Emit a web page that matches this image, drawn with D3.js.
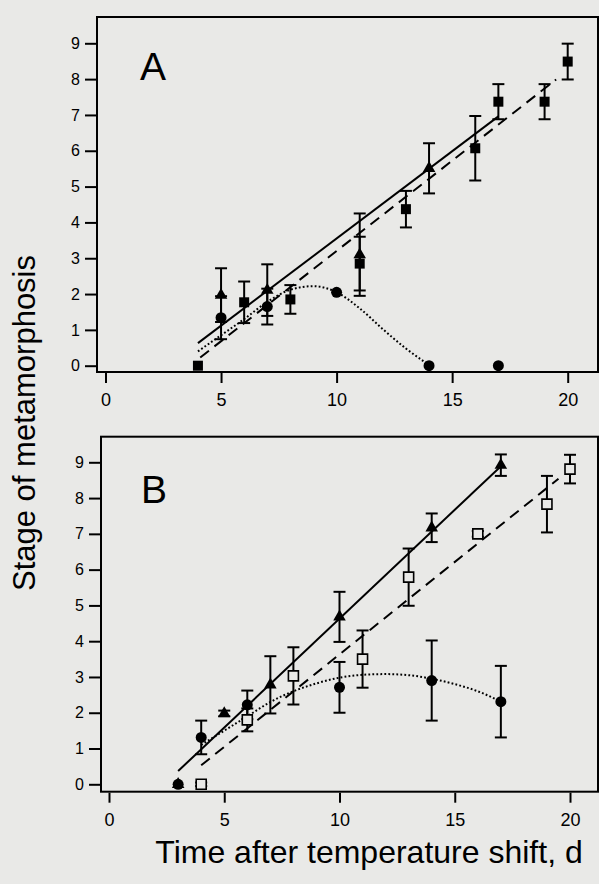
<!DOCTYPE html>
<meta charset="utf-8"/>
<head>
<script src="https://d3js.org/d3.v7.min.js"></script>
<style>
body { margin: 0; background: #e9e9e7; }
svg { display: block; background: #e9e9e7; }
text { font-family: "Liberation Sans", Arial, Helvetica, sans-serif; fill: #000; }
.tick line { stroke: #000; stroke-width: 2px; }
</style>
</head>
<body>
<div id="chart"></div>
<script>

// ---- panel A (high density) ----
var daysA_sq = [4, 6, 8, 11, 13, 16, 17, 19, 20],
    stageA_sq = [0, 1.77, 1.85, 2.85, 4.37, 6.07, 7.37, 7.37, 8.49],
    errA_sq = [0, 0.58, 0.4, 0.75, 0.51, 0.9, 0.49, 0.49, 0.5];

var daysA_tri = [5, 7, 11, 14],
    stageA_tri = [1.97, 2.11, 3.1, 5.51],
    errA_tri = [0.75, 0.72, 1.15, 0.7];

var daysA_ci = [5, 7, 10, 14, 17],
    stageA_ci = [1.34, 1.65, 2.05, 0, 0],
    errA_ci = [0.6, 0.5, 0, 0, 0];

// fitted curves
var fitA_solid_x = [4, 17], fitA_solid_y = [0.63, 6.96];
var fitA_dash_x = [4.1, 19.5], fitA_dash_y = [0.23, 7.99];
var fitA_dot_x = [4, 5, 6, 7, 8, 9, 10, 11, 12, 13, 14],
    fitA_dot_y = [0.4, 0.85, 1.3, 1.78, 2.12, 2.22, 2.05, 1.6, 1.02, 0.48, 0.02];

// ---- panel B ----
var daysB_tri = [3, 5, 7, 10, 14, 17],
    stageB_tri = [0, 1.98, 2.78, 4.68, 7.17, 8.92],
    errB_tri = [0, 0.08, 0.8, 0.7, 0.4, 0.3];

var daysB_ci = [3, 4, 6, 10, 14, 17],
    stageB_ci = [0, 1.31, 2.22, 2.71, 2.9, 2.31],
    errB_ci = [0, 0.47, 0.4, 0.71, 1.12, 1.0];

var daysB_osq = [4, 6, 8, 11, 13, 16, 19, 20],
    stageB_osq = [0, 1.8, 3.03, 3.5, 5.79, 7.0, 7.83, 8.81],
    errB_osq = [0.05, 0.32, 0.8, 0.8, 0.8, 0.08, 0.79, 0.4];

var fitB_solid_x = [3, 17.05], fitB_solid_y = [0.37, 8.92];
var fitB_dash_x = [4, 19.5], fitB_dash_y = [0.53, 8.54];
var fitB_dot_x = [4, 5, 6, 7, 8, 9, 10, 11, 12, 13, 14, 15, 16, 17],
    fitB_dot_y = [1.1, 1.5, 1.9, 2.3, 2.6, 2.82, 2.98, 3.06, 3.08, 3.05, 2.95, 2.8, 2.6, 2.31];

var xTicks = [0, 5, 10, 15, 20],
    yTicks = [0, 1, 2, 3, 4, 5, 6, 7, 8, 9];

var xTitle = "Time after temperature shift, d",
    yTitle = "Stage of metamorphosis";

var bg = "#e9e9e7";

var svg = d3.select("#chart").append("svg")
    .attr("width", 599)
    .attr("height", 884);

function zip(xs, ys, es) {
  return xs.map(function(d, i) { return { x: d, y: ys[i], e: es ? es[i] : 0 }; });
}

function drawPanel(p) {
  var x = d3.scaleLinear().domain([0, 20]).range(p.xRange);
  var y = d3.scaleLinear().domain([0, 9]).range(p.yRange);
  var g = svg.append("g");

  // frame
  g.append("rect")
    .attr("x", p.box[0]).attr("y", p.box[1])
    .attr("width", p.box[2] - p.box[0]).attr("height", p.box[3] - p.box[1])
    .attr("fill", "none").attr("stroke", "#000").attr("stroke-width", 2);

  // axes
  var ya = g.append("g")
    .attr("transform", "translate(" + p.box[0] + ",0)")
    .call(d3.axisLeft(y).tickValues(yTicks).tickSize(12).tickPadding(5).tickSizeOuter(0));
  ya.select(".domain").remove();
  ya.selectAll("text").style("font-size", "16px");

  var xa = g.append("g")
    .attr("transform", "translate(0," + (p.box[3] + 1) + ")")
    .call(d3.axisBottom(x).tickValues(xTicks).tickSize(10).tickPadding(p.xPad).tickSizeOuter(0));
  xa.select(".domain").remove();
  xa.selectAll("text").style("font-size", "18px");

  var line = d3.line().x(function(d) { return x(d.x); }).y(function(d) { return y(d.y); });

  p.fits.forEach(function(f) {
    g.append("path")
      .datum(zip(f.xs, f.ys))
      .attr("d", line.curve(f.curve || d3.curveLinear))
      .attr("fill", "none")
      .attr("stroke", "#000")
      .attr("stroke-width", f.w)
      .attr("stroke-dasharray", f.dash);
  });

  p.series.forEach(function(s) {
    var pts = zip(s.xs, s.ys, s.es);
    var eb = g.append("g").selectAll("g")
      .data(pts.filter(function(d) { return d.e > 0; }))
      .join("g");
    eb.append("line")
      .attr("x1", function(d) { return x(d.x); }).attr("x2", function(d) { return x(d.x); })
      .attr("y1", function(d) { return y(d.y - d.e); }).attr("y2", function(d) { return y(d.y + d.e); });
    [-1, 1].forEach(function(k) {
      eb.append("line")
        .attr("x1", function(d) { return x(d.x) - 6; }).attr("x2", function(d) { return x(d.x) + 6; })
        .attr("y1", function(d) { return y(d.y + k * d.e); }).attr("y2", function(d) { return y(d.y + k * d.e); });
    });
    eb.selectAll("line").attr("stroke", "#000").attr("stroke-width", 2);
  });

  p.series.forEach(function(s) {
    var pts = zip(s.xs, s.ys, s.es);
    var m = g.append("g").selectAll("path").data(pts).join("path")
      .attr("transform", function(d) { return "translate(" + x(d.x) + "," + y(d.y) + ")"; });
    if (s.shape === "square") {
      m.attr("d", "M-5,-5h10v10h-10z").attr("fill", "#000");
    } else if (s.shape === "open") {
      m.attr("d", "M-5,-5h10v10h-10z").attr("fill", bg).attr("stroke", "#000").attr("stroke-width", 1.6);
    } else if (s.shape === "triangle") {
      m.attr("d", d3.symbol(d3.symbolTriangle, 68)).attr("fill", "#000");
    } else {
      m.attr("d", d3.symbol(d3.symbolCircle, 95)).attr("fill", "#000");
    }
  });

  g.append("text")
    .attr("x", p.labelPos[0]).attr("y", p.labelPos[1])
    .style("font-size", "39px")
    .text(p.label);
}

drawPanel({
  label: "A", labelPos: [140, 80],
  box: [97, 17, 598, 372],
  xRange: [105.5, 567.7], yRange: [365.7, 43.3], xPad: 10,
  fits: [
    { xs: fitA_solid_x, ys: fitA_solid_y, w: 2, dash: null },
    { xs: fitA_dash_x, ys: fitA_dash_y, w: 2, dash: "11,7" },
    { xs: fitA_dot_x, ys: fitA_dot_y, w: 2, dash: "1.8,2.2", curve: d3.curveMonotoneX }
  ],
  series: [
    { xs: daysA_ci, ys: stageA_ci, es: errA_ci, shape: "circle" },
    { xs: daysA_tri, ys: stageA_tri, es: errA_tri, shape: "triangle" },
    { xs: daysA_sq, ys: stageA_sq, es: errA_sq, shape: "square" }
  ]
});

drawPanel({
  label: "B", labelPos: [141, 503],
  box: [101, 436.7, 598, 791.7],
  xRange: [109, 570], yRange: [784.3, 462.3], xPad: 11,
  fits: [
    { xs: fitB_solid_x, ys: fitB_solid_y, w: 2, dash: null },
    { xs: fitB_dash_x, ys: fitB_dash_y, w: 2, dash: "11,7" },
    { xs: fitB_dot_x, ys: fitB_dot_y, w: 2, dash: "1.8,2.2", curve: d3.curveMonotoneX }
  ],
  series: [
    { xs: daysB_tri, ys: stageB_tri, es: errB_tri, shape: "triangle" },
    { xs: daysB_osq, ys: stageB_osq, es: errB_osq, shape: "open" },
    { xs: daysB_ci, ys: stageB_ci, es: errB_ci, shape: "circle" }
  ]
});

// axis titles
svg.append("text")
  .attr("transform", "translate(35,423) rotate(-90)")
  .attr("text-anchor", "middle")
  .style("font-size", "31px")
  .text(yTitle);

svg.append("text")
  .attr("x", 369).attr("y", 863)
  .attr("text-anchor", "middle")
  .style("font-size", "32px")
  .text(xTitle);

</script>
</body>
